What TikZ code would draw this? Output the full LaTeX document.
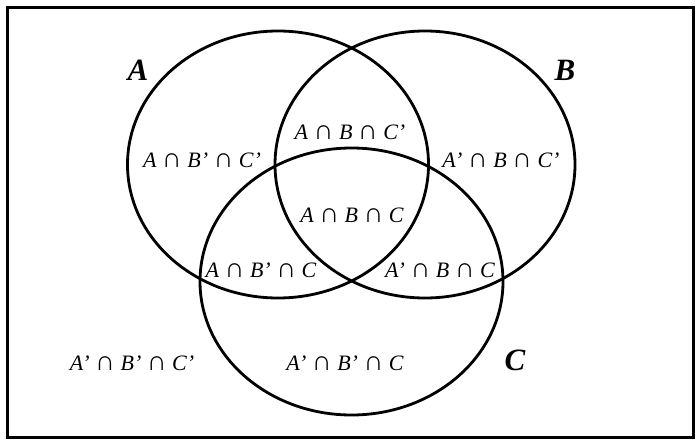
\documentclass[tikz,border=0pt]{standalone}
\usepackage{fontspec}
\setmainfont{Liberation Serif}
\newcommand{\cp}{ {\upshape\scalebox{1.25}{∩}} }
\begin{document}
\begin{tikzpicture}[x=1pt,y=-1pt,
  setline/.style={line width=2.8pt},
  lbl/.style={font=\fontsize{22}{24}\selectfont\itshape, inner sep=0pt},
  big/.style={font=\fontsize{31}{32}\selectfont\bfseries\itshape, inner sep=0pt}]
\useasboundingbox (0,0) rectangle (700,441);
\draw[line width=3pt] (7,8) rectangle (693,437);
\draw[setline] (278,164.5) ellipse [x radius=150.5, y radius=133.5];
\draw[setline] (425,164.5) ellipse [x radius=150, y radius=133.5];
\draw[setline] (351.5,281.5) ellipse [x radius=151.5, y radius=133.5];
\node[big] (la) at (138,70) {A};
\node[big] (lb) at (565,70) {B};
\node[big] (lc) at (515,360) {C};
\node[lbl] (r1) at (202,160) {A\cp B’\cp C’};
\node[lbl] (r2) at (350,132) {A\cp B\cp C’};
\node[lbl] (r3) at (501,160) {A’\cp B\cp C’};
\node[lbl] (r4) at (352,215) {A\cp B\cp C};
\node[lbl] (r5) at (261,270) {A\cp B’\cp C};
\node[lbl] (r6) at (440,270) {A’\cp B\cp C};
\node[lbl] (r7) at (132,363) {A’\cp B’\cp C’};
\node[lbl] (r8) at (345,363) {A’\cp B’\cp C};
\end{tikzpicture}
\end{document}
